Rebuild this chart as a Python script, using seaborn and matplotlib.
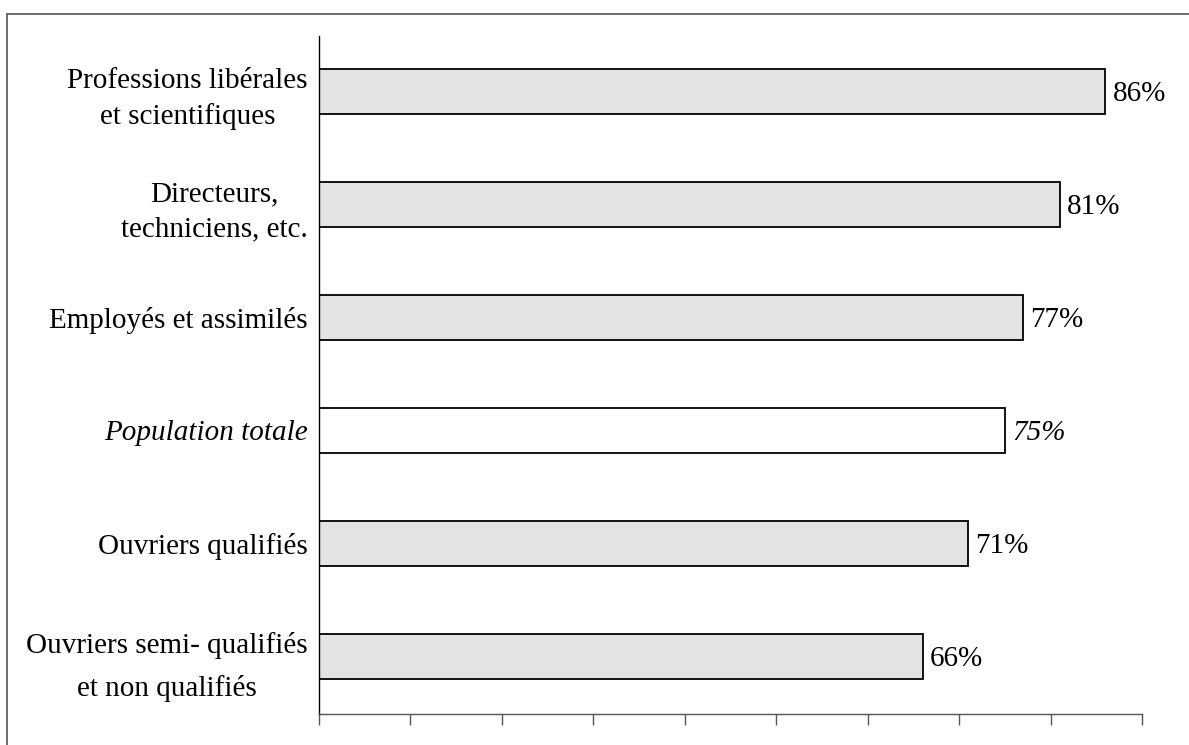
import matplotlib
matplotlib.use("Agg")
import matplotlib.pyplot as plt
import seaborn as sns
import pandas as pd
from matplotlib.lines import Line2D

categories = [
    "Professions libérales\net scientifiques",
    "Directeurs,\ntechniciens, etc.",
    "Employés et assimilés",
    "Population totale",
    "Ouvriers qualifiés",
    "Ouvriers semi- qualifiés\net non qualifiés",
]
values = [86, 81, 77, 75, 71, 66]
value_labels = ["86%", "81%", "77%", "75%", "71%", "66%"]
fill_colors = ["#e3e3e3", "#e3e3e3", "#e3e3e3", "#ffffff", "#e3e3e3", "#e3e3e3"]
italic_flags = [False, False, False, True, False, False]
x_ticks = [0, 10, 20, 30, 40, 50, 60, 70, 80, 90]

sns.set_theme(style="white")
plt.rcParams["font.family"] = ["Liberation Serif", "DejaVu Serif"]

df = pd.DataFrame({"cat": categories, "val": values})

fig = plt.figure(figsize=(11.89, 7.45), dpi=100)
ax = fig.add_axes([319 / 1189, 1 - 714 / 745, (1142 - 319) / 1189, (714 - 36) / 745])

sns.barplot(data=df, y="cat", x="val", hue="cat", palette=fill_colors,
            orient="h", width=0.4, edgecolor="black", linewidth=1.3,
            legend=False, ax=ax, saturation=1)

ax.set_xlim(0, 90)
ax.set_ylim(5.51, -0.49)
ax.set_xticks(x_ticks)
ax.set_xticklabels([])
ax.set_xlabel("")
ax.set_ylabel("")
ax.tick_params(axis="x", direction="out", length=8, width=1, color="#555555", bottom=True)
ax.tick_params(axis="y", length=0, pad=8)

for s in ["top", "right"]:
    ax.spines[s].set_visible(False)
ax.spines["left"].set_color("black")
ax.spines["left"].set_linewidth(1)
ax.spines["bottom"].set_color("#555555")
ax.spines["bottom"].set_linewidth(1)

ax.set_yticks(range(len(categories)))
ax.set_yticklabels(categories, fontsize=21, ha="right", multialignment="center", linespacing=1.45)
for lab, it in zip(ax.get_yticklabels(), italic_flags):
    if it:
        lab.set_fontstyle("italic")
    lab.set_color("black")
last = ax.get_yticklabels()[5]
last.set_linespacing(1.75)
last.set_verticalalignment("center_baseline")

for i, (v, t, it) in enumerate(zip(values, value_labels, italic_flags)):
    ax.text(v + 0.8, i, t, va="center_baseline", ha="left", fontsize=21,
            fontstyle="italic" if it else "normal", color="black")

# figure frame (clipped on right and bottom in reference)
fig.add_artist(Line2D([7 / 1189, 7 / 1189], [0, 1 - 14 / 745], transform=fig.transFigure,
                      color="#555555", linewidth=1.2))
fig.add_artist(Line2D([7 / 1189, 1], [1 - 14 / 745, 1 - 14 / 745], transform=fig.transFigure,
                      color="#555555", linewidth=1.2))

fig.savefig("out.png", dpi=100, facecolor="white")
